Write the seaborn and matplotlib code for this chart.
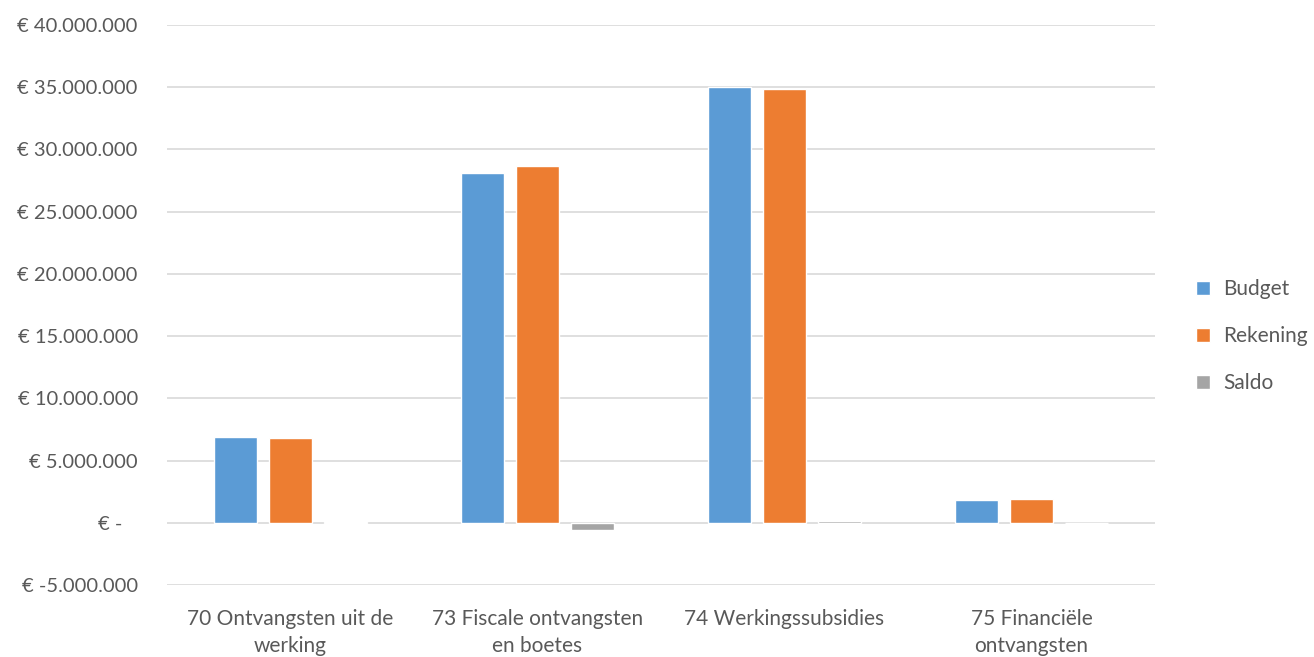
import matplotlib
matplotlib.use("Agg")
import matplotlib.pyplot as plt
import seaborn as sns
import pandas as pd
from matplotlib.ticker import FuncFormatter

categories = ["70 Ontvangsten uit de\nwerking", "73 Fiscale ontvangsten\nen boetes",
              "74 Werkingssubsidies", "75 Financiële\nontvangsten"]
budget = [6880000, 28070000, 35000000, 1870000]
rekening = [6800000, 28660000, 34840000, 1900000]
saldo = [80000, -590000, 160000, -30000]
series = ["Budget", "Rekening", "Saldo"]
colors = ["#5b9bd5", "#ed7d31", "#a5a5a5"]

rows = []
for i, c in enumerate(categories):
    rows.append((c, "Budget", budget[i]))
    rows.append((c, "Rekening", rekening[i]))
    rows.append((c, "Saldo", saldo[i]))
df = pd.DataFrame(rows, columns=["cat", "serie", "val"])

sns.set_theme(style="white")
plt.rcParams["font.family"] = ["Lato", "DejaVu Sans"]
FS = 15

fig = plt.figure(figsize=(13.14, 6.57), dpi=100)
ax = fig.add_axes([167/1314, 1-585/657, (1155-167)/1314, (585-25)/657])
sns.barplot(data=df, x="cat", y="val", hue="serie", hue_order=series,
            palette=colors, width=0.668, gap=0.22, ax=ax, saturation=1,
            legend=True)

ax.set_ylim(-5000000, 40000000)
ax.set_yticks(range(-5000000, 40000001, 5000000))

def fmt(v, pos):
    if abs(v) < 1:
        return "€ -   "
    s = f"{int(abs(v)):,}".replace(",", ".")
    return f"€ -{s}" if v < 0 else f"€ {s}"

ax.yaxis.set_major_formatter(FuncFormatter(fmt))
ax.grid(axis="y", color="#d9d9d9", linewidth=1.2)
ax.set_axisbelow(True)
for s in ax.spines.values():
    s.set_visible(False)
ax.set_xlabel("")
ax.set_ylabel("")
ax.tick_params(axis="both", length=0, labelsize=FS, colors="#595959")
ax.tick_params(axis="y", labelsize=14.5, pad=21)
ax.tick_params(axis="x", pad=17)
for lab in ax.get_xticklabels():
    lab.set_linespacing(1.45)

handles, labels = ax.get_legend_handles_labels()
ax.legend(handles, labels, loc="center left", bbox_to_anchor=(1196/1314, 1 - 336/657),
          bbox_transform=fig.transFigure, frameon=False, fontsize=FS,
          handlelength=0.65, handleheight=0.65, labelspacing=1.3, handletextpad=0.65,
          labelcolor="#595959", borderpad=0, borderaxespad=0)

fig.savefig("out.png", dpi=100)
